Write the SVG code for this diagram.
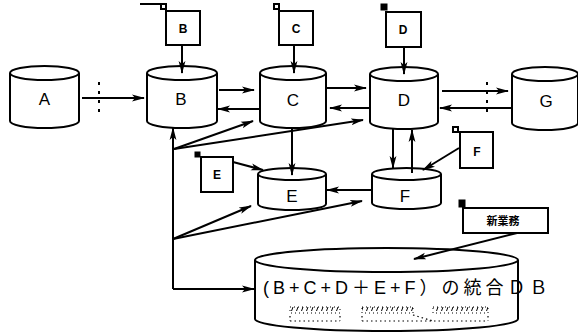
<svg xmlns="http://www.w3.org/2000/svg" width="578" height="332" viewBox="0 0 578 332">
  <defs>
    <marker id="ah" viewBox="0 0 13 8" refX="12" refY="4" markerWidth="13" markerHeight="8" markerUnits="userSpaceOnUse" orient="auto">
      <path d="M0,0.6 L13,4 L0,7.4 L3,4 Z" fill="#000"/>
    </marker>
    <pattern id="hatch" width="5" height="6" patternUnits="userSpaceOnUse">
      <line x1="1.5" y1="5" x2="3" y2="1" stroke="#000" stroke-width="1"/>
    </pattern>
  </defs>
  <style>
    .cyl { fill: #fff; stroke: #000; stroke-width: 2; }
    .box { fill: #fff; stroke: #000; stroke-width: 2; }
    .mk { fill: #fff; stroke: #000; stroke-width: 2; }
    .mkf { fill: #000; stroke: #000; stroke-width: 1; }
    .lbl { font-family: "Liberation Sans", Arial, sans-serif; font-size: 17px; text-anchor: middle; fill: #000; }
    .blbl { font-family: "Liberation Sans", Arial, sans-serif; font-size: 12px; font-weight: bold; text-anchor: middle; fill: #000; }
    .con { fill: none; stroke: #000; stroke-width: 2; }
    .arr { fill: none; stroke: #000; stroke-width: 2; marker-end: url(#ah); }
    .dot { fill: none; stroke: #000; stroke-width: 2; stroke-dasharray: 3 6; }
  </style>

  <!-- underline fragment of the heading -->
  <line x1="140" y1="4" x2="162" y2="4" class="con"/>

  <!-- databases -->
  <g id="dbA">
    <path class="cyl" d="M10,73 V121 A34.5,7 0 0 0 79,121 V73"/>
    <ellipse class="cyl" cx="44.5" cy="73" rx="34.5" ry="7"/>
    <text class="lbl" x="44.5" y="105">A</text>
  </g>
  <g id="dbB">
    <path class="cyl" d="M147,73 V121 A35,7 0 0 0 217,121 V73"/>
    <ellipse class="cyl" cx="182" cy="73" rx="35" ry="7"/>
    <text class="lbl" x="181" y="105">B</text>
  </g>
  <g id="dbC">
    <path class="cyl" d="M260,73 V121 A33,7 0 0 0 326,121 V73"/>
    <ellipse class="cyl" cx="293" cy="73" rx="33" ry="7"/>
    <text class="lbl" x="293" y="106">C</text>
  </g>
  <g id="dbD">
    <path class="cyl" d="M370,74 V122 A34,7 0 0 0 438,122 V74"/>
    <ellipse class="cyl" cx="404" cy="74" rx="34" ry="7"/>
    <text class="lbl" x="404" y="106">D</text>
  </g>
  <g id="dbG">
    <path class="cyl" d="M512,74 V123 A33,7 0 0 0 578,123 V74"/>
    <ellipse class="cyl" cx="545" cy="74" rx="33" ry="7"/>
    <text class="lbl" x="546" y="107">G</text>
  </g>
  <g id="dbE">
    <path class="cyl" d="M258,174 V204 A34,6 0 0 0 326,204 V174"/>
    <ellipse class="cyl" cx="292" cy="174" rx="34" ry="6"/>
    <text class="lbl" x="292" y="202">E</text>
  </g>
  <g id="dbF">
    <path class="cyl" d="M372,174 V203 A34.5,6 0 0 0 441,203 V174"/>
    <ellipse class="cyl" cx="406.5" cy="174" rx="34.5" ry="6"/>
    <text class="lbl" x="405" y="202">F</text>
  </g>
  <g id="dbAll">
    <path class="cyl" d="M255,260 V319 A131.5,12 0 0 0 518,319 V260"/>
    <ellipse class="cyl" cx="386.5" cy="260" rx="131.5" ry="12"/>
    <text x="263" y="294" font-family="'Liberation Sans', 'Noto Sans CJK JP', sans-serif" font-size="18" letter-spacing="4" fill="#000">(B+C+D＋E+F）の統合ＤＢ</text>
    <g fill="url(#hatch)" stroke="#000" stroke-width="1" stroke-dasharray="1 3">
      <rect x="290" y="307" width="50" height="6"/>
      <rect x="362" y="307" width="51" height="6"/>
      <rect x="433" y="307" width="55" height="6"/>
    </g>
    <g fill="none" stroke="#000" stroke-width="1.2" stroke-dasharray="1.5 3">
      <line x1="290" y1="321" x2="340" y2="321"/>
      <line x1="362" y1="321" x2="488" y2="321"/>
      <line x1="290" y1="316" x2="290" y2="321"/>
      <line x1="340" y1="316" x2="340" y2="321"/>
      <line x1="362" y1="316" x2="362" y2="321"/>
      <line x1="413" y1="315" x2="433" y2="321"/>
      <line x1="488" y1="316" x2="488" y2="321"/>
    </g>
  </g>

  <!-- task boxes -->
  <g id="taskB">
    <rect class="box" x="166" y="11" width="34" height="34"/>
    <rect class="mk" x="161" y="4" width="5" height="5"/>
    <text class="blbl" x="183" y="33">B</text>
  </g>
  <g id="taskC">
    <rect class="box" x="279" y="11" width="34" height="34"/>
    <rect class="mk" x="274" y="4" width="5" height="5"/>
    <text class="blbl" x="296" y="33">C</text>
  </g>
  <g id="taskD">
    <rect class="box" x="386" y="12" width="35" height="35"/>
    <rect class="mkf" x="381" y="4" width="6" height="6"/>
    <text class="blbl" x="403" y="34">D</text>
  </g>
  <g id="taskE">
    <rect class="box" x="201" y="157" width="32" height="35"/>
    <rect class="mkf" x="195" y="152" width="5" height="5"/>
    <text class="blbl" x="217" y="179">E</text>
  </g>
  <g id="taskF">
    <rect class="box" x="460" y="132" width="33" height="36"/>
    <rect class="mk" x="453" y="127" width="5" height="5"/>
    <text class="blbl" x="477" y="156">F</text>
  </g>
  <g id="taskNew">
    <rect class="box" x="463" y="208" width="85" height="25"/>
    <rect class="mkf" x="459" y="200" width="6" height="7"/>
    <text x="503" y="225" font-family="'Noto Sans CJK JP', sans-serif" font-size="11" font-weight="bold" text-anchor="middle" fill="#000">新業務</text>
  </g>

  <!-- connectors -->
  <g id="connectors">
    <!-- task boxes into databases -->
    <line class="arr" x1="182" y1="45" x2="182" y2="73"/>
    <line class="arr" x1="294" y1="45" x2="294" y2="73"/>
    <line class="arr" x1="404" y1="47" x2="404" y2="74"/>
    <line class="arr" x1="233" y1="162" x2="263" y2="170"/>
    <line class="arr" x1="459" y1="148" x2="423" y2="170"/>
    <line class="arr" x1="517" y1="233" x2="414" y2="259"/>

    <!-- A to B with cut mark -->
    <line class="arr" x1="82" y1="98" x2="144" y2="98"/>
    <line class="dot" x1="99" y1="82" x2="99" y2="118"/>

    <!-- B and C -->
    <line class="arr" x1="219" y1="90" x2="254" y2="90"/>
    <line class="arr" x1="259" y1="109" x2="218" y2="109"/>
    <!-- C and D -->
    <line class="arr" x1="327" y1="88" x2="366" y2="88"/>
    <line class="arr" x1="369" y1="108" x2="330" y2="108"/>
    <!-- D and G with cut mark -->
    <line class="arr" x1="442" y1="91" x2="508" y2="91"/>
    <line class="arr" x1="511" y1="108" x2="440" y2="108"/>
    <line class="dot" x1="487" y1="82" x2="487" y2="118"/>

    <!-- C to E -->
    <line class="arr" x1="292" y1="127" x2="292" y2="175"/>
    <!-- D and F -->
    <line class="arr" x1="393" y1="128" x2="393" y2="168"/>
    <line class="arr" x1="412" y1="173" x2="412" y2="130"/>
    <!-- F to E -->
    <line class="arr" x1="372" y1="190" x2="327" y2="190"/>

    <!-- shared trunk from the integrated database back up to B -->
    <line class="arr" x1="173" y1="289" x2="173" y2="128"/>
    <line class="arr" x1="173" y1="289" x2="254" y2="289"/>
    <line class="arr" x1="174" y1="149" x2="253" y2="121"/>
    <line class="arr" x1="174" y1="149" x2="363" y2="120"/>
    <line class="arr" x1="173" y1="239" x2="251" y2="206"/>
    <line class="arr" x1="173" y1="239" x2="362" y2="201"/>
  </g>
</svg>
